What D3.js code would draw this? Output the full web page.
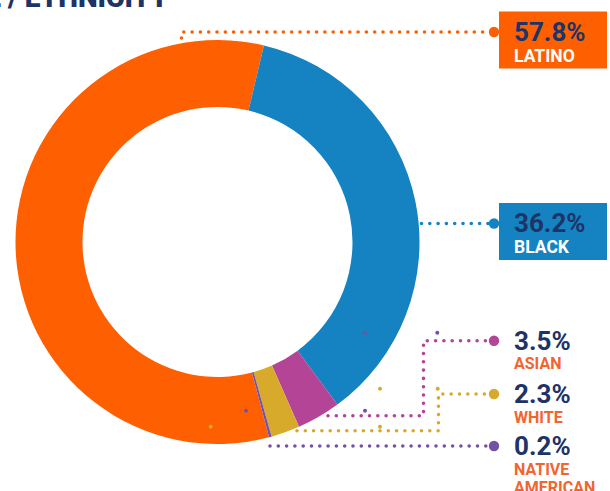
<!DOCTYPE html>
<html>
<head>
<meta charset="utf-8">
<script src="https://cdn.jsdelivr.net/npm/d3@7"></script>
<style>
  html, body { margin: 0; padding: 0; background: #fff; }
  svg { display: block; font-family: Roboto, "Noto Sans", sans-serif; }
</style>
</head>
<body>
<svg id="chart" width="610" height="491"></svg>
<script>
// Students by race / ethnicity (donut)
const categories = ['Latino', 'Black', 'Asian', 'White', 'Native American'];
const shares = [57.8, 36.2, 3.5, 2.3, 0.2];
const labelLines = [['LATINO'], ['BLACK'], ['ASIAN'], ['WHITE'], ['NATIVE', 'AMERICAN']];
const sliceColors = ['#fe5f00', '#1583c1', '#b44495', '#d8aa2b', '#7352a5'];

// label rows on the right (y of the leader line) and where each leader bends
const labelY = [32, 223.5, 340.7, 394, 446];
const leaderStartX = [181.5, 421.5, 328, 297, 270];
const leaderStartY = [38, 223.5, 415.7, 430.7, 446];
const elbowX = [null, null, 423.5, 438.5, null];
const boxed = [true, true, false, false, false];

const width = 610, height = 491;
const cx = 217.5, cy = 242;
const outerR = 202, innerR = 135;
const navy = '#1e3366';
const textOrange = '#f26430';

const svg = d3.select('#chart');

// clipped title at the very top
svg.append('text')
    .attr('x', 168)
    .attr('y', 6.5)
    .attr('text-anchor', 'end')
    .attr('font-size', 28)
    .attr('font-weight', 900)
    .attr('fill', navy)
    .text('RACE / ETHNICITY');

const pie = d3.pie()
    .sort(null)
    .value(d => d)
    .startAngle(165.2 * Math.PI / 180)
    .endAngle(165.2 * Math.PI / 180 + 2 * Math.PI);

const arc = d3.arc().innerRadius(innerR).outerRadius(outerR);

svg.append('g')
    .attr('transform', `translate(${cx},${cy})`)
    .selectAll('path')
    .data(pie(shares))
    .enter().append('path')
    .attr('d', arc)
    .attr('fill', (d, i) => sliceColors[i]);

// leader lines (dotted)
const line = d3.line();
const dotX = 494;
const leaders = categories.map((c, i) => {
    const pts = [[leaderStartX[i], leaderStartY[i]]];
    if (i === 0) pts.push([leaderStartX[i], labelY[i]]);
    if (elbowX[i] !== null) {
        pts.push([elbowX[i], leaderStartY[i]]);
        pts.push([elbowX[i], labelY[i]]);
    }
    pts.push([dotX - 4, labelY[i]]);
    return pts;
});

svg.append('g')
    .selectAll('path')
    .data(leaders)
    .enter().append('path')
    .attr('d', d => line(d))
    .attr('fill', 'none')
    .attr('stroke', (d, i) => sliceColors[i])
    .attr('stroke-width', 3.6)
    .attr('stroke-linecap', 'round')
    .attr('stroke-dasharray', '0 8.3');

svg.append('g')
    .selectAll('circle')
    .data(labelY)
    .enter().append('circle')
    .attr('cx', dotX)
    .attr('cy', d => d)
    .attr('r', 5.2)
    .attr('fill', (d, i) => sliceColors[i]);

// stray endpoint dots left in the artwork
const strayDots = [
    [365, 332.7, 4], [437.3, 332.7, 4], [365, 410.7, 4], [246, 410.7, 4],
    [380, 388.7, 3], [437.7, 388.7, 3], [380, 426.7, 3], [210.7, 426.7, 3]
];
svg.append('g')
    .selectAll('circle')
    .data(strayDots)
    .enter().append('circle')
    .attr('cx', d => d[0])
    .attr('cy', d => d[1])
    .attr('r', 2)
    .attr('fill', d => sliceColors[d[2]]);

// labels
const fmt = d => d.toFixed(1) + '%';
const labels = svg.append('g');
categories.forEach((c, i) => {
    const y = labelY[i];
    if (boxed[i]) {
        labels.append('rect')
            .attr('x', 499)
            .attr('y', y - 20.5)
            .attr('width', 108)
            .attr('height', 57)
            .attr('fill', sliceColors[i]);
    }
    labels.append('text')
        .attr('x', 514)
        .attr('y', y + (boxed[i] ? 8.5 : 8.8))
        .attr('font-size', 26)
        .attr('font-weight', 700)
        .attr('fill', navy)
        .text(fmt(shares[i]));
    labelLines[i].forEach((t, j) => {
        labels.append('text')
            .attr('x', 514)
            .attr('y', y + (boxed[i] ? 29.5 : 28.5) + j * 18.5)
            .attr('font-size', boxed[i] ? 17.5 : 16)
            .attr('font-weight', 700)
            .attr('fill', boxed[i] ? '#ffffff' : textOrange)
            .text(t);
    });
});
</script>
</body>
</html>
